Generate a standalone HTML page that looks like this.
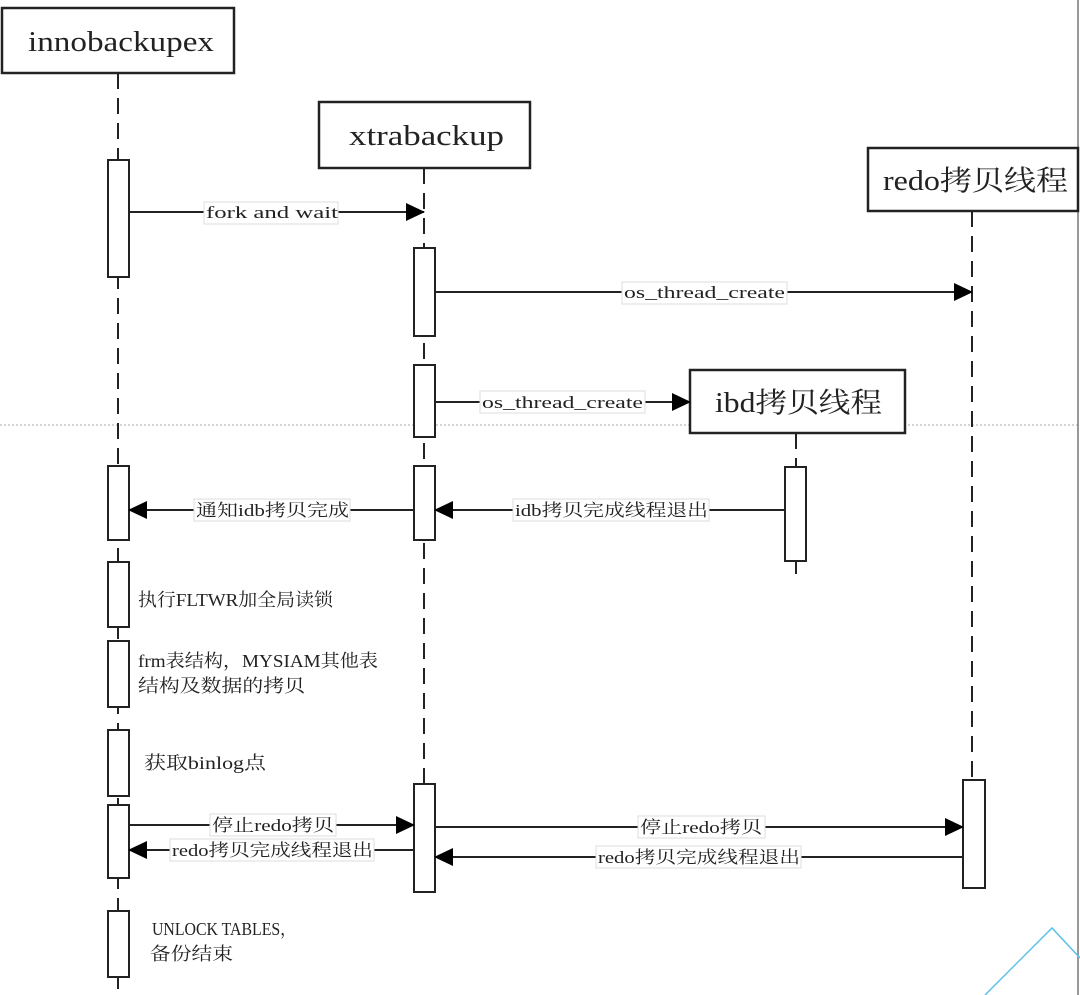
<!DOCTYPE html>
<html><head><meta charset="utf-8"><style>
html,body{margin:0;padding:0;background:#fff;}
svg{display:block;}
text{font-family:"Liberation Serif","Noto Serif CJK SC",serif;fill:#222;}
.t{font-size:28px;}
.l{font-size:17px;}
.n{font-size:18px;}
</style></head><body>
<svg width="1080" height="995" viewBox="0 0 1080 995" xmlns="http://www.w3.org/2000/svg">
<defs><marker id="a" markerWidth="20" markerHeight="20" refX="18" refY="9" orient="auto" markerUnits="userSpaceOnUse"><path d="M0,0 L19,9 L0,18 z" fill="#000"/></marker></defs>
<line x1="0" y1="425" x2="1080" y2="425" stroke="#aaa" stroke-width="1" stroke-dasharray="2,2"/>
<line x1="1078" y1="0" x2="1078" y2="995" stroke="#777" stroke-width="1.5"/>
<g stroke="#222" stroke-width="2" fill="none" stroke-dasharray="16,9">
<line x1="118" y1="73" x2="118" y2="990"/>
<line x1="424" y1="168" x2="424" y2="892"/>
<line x1="972" y1="211" x2="972" y2="888"/>
<line x1="796" y1="433" x2="796" y2="578"/>
</g>
<g stroke="#222" stroke-width="2.5" fill="#fff">
<rect x="2" y="8" width="232" height="65"/>
<rect x="319" y="102" width="211" height="66"/>
<rect x="868" y="148" width="210" height="63"/>
<rect x="690" y="370" width="215" height="63"/>
</g>
<text class="t" x="28" y="51" textLength="186" lengthAdjust="spacingAndGlyphs">innobackupex</text>
<text class="t" x="349" y="145" textLength="155" lengthAdjust="spacingAndGlyphs">xtrabackup</text>
<text class="t" x="883" y="190" textLength="185" lengthAdjust="spacingAndGlyphs">redo拷贝线程</text>
<text class="t" x="715" y="412" textLength="167" lengthAdjust="spacingAndGlyphs">ibd拷贝线程</text>
<g stroke="#222" stroke-width="2" fill="#fff">
<rect x="108" y="160" width="21" height="117"/>
<rect x="108" y="466" width="21" height="74"/>
<rect x="108" y="562" width="21" height="65"/>
<rect x="108" y="641" width="21" height="66"/>
<rect x="108" y="730" width="21" height="66"/>
<rect x="108" y="805" width="21" height="73"/>
<rect x="108" y="911" width="21" height="66"/>
<rect x="414" y="248" width="21" height="88"/>
<rect x="414" y="365" width="21" height="72"/>
<rect x="414" y="466" width="21" height="74"/>
<rect x="414" y="784" width="21" height="108"/>
<rect x="785" y="467" width="21" height="94"/>
<rect x="963" y="780" width="22" height="108"/>
</g>
<g stroke="#222" stroke-width="2" marker-end="url(#a)">
<line x1="129" y1="212" x2="424" y2="212"/>
<line x1="435" y1="292" x2="972" y2="292"/>
<line x1="435" y1="402" x2="690" y2="402"/>
<line x1="414" y1="510" x2="129" y2="510"/>
<line x1="785" y1="510" x2="435" y2="510"/>
<line x1="129" y1="825" x2="414" y2="825"/>
<line x1="435" y1="827" x2="963" y2="827"/>
<line x1="414" y1="850" x2="129" y2="850"/>
<line x1="963" y1="857" x2="435" y2="857"/>
</g>
<g fill="#fff" stroke="#ddd" stroke-width="1">
<rect x="204" y="202" width="134" height="22"/>
<rect x="622" y="282" width="165" height="22"/>
<rect x="480" y="391" width="165" height="22"/>
<rect x="194" y="499" width="156" height="22"/>
<rect x="513" y="499" width="196" height="22"/>
<rect x="210" y="814" width="126" height="22"/>
<rect x="638" y="816" width="127" height="22"/>
<rect x="170" y="839" width="204" height="22"/>
<rect x="596" y="846" width="205" height="22"/>
</g>
<text class="l" x="206" y="218" textLength="132" lengthAdjust="spacingAndGlyphs">fork and wait</text>
<text class="l" x="624" y="298" textLength="161" lengthAdjust="spacingAndGlyphs">os_thread_create</text>
<text class="l" x="482" y="408" textLength="161" lengthAdjust="spacingAndGlyphs">os_thread_create</text>
<text class="l" x="196" y="516" textLength="153" lengthAdjust="spacingAndGlyphs">通知idb拷贝完成</text>
<text class="l" x="515" y="516" textLength="193" lengthAdjust="spacingAndGlyphs">idb拷贝完成线程退出</text>
<text class="l" x="212" y="831" textLength="122" lengthAdjust="spacingAndGlyphs">停止redo拷贝</text>
<text class="l" x="640" y="833" textLength="122" lengthAdjust="spacingAndGlyphs">停止redo拷贝</text>
<text class="l" x="172" y="856" textLength="201" lengthAdjust="spacingAndGlyphs">redo拷贝完成线程退出</text>
<text class="l" x="598" y="863" textLength="202" lengthAdjust="spacingAndGlyphs">redo拷贝完成线程退出</text>
<text class="n" x="138" y="606" textLength="195" lengthAdjust="spacingAndGlyphs">执行FLTWR加全局读锁</text>
<text class="n" x="138" y="667" textLength="240" lengthAdjust="spacingAndGlyphs">frm表结构，MYSIAM其他表</text>
<text class="n" x="138" y="692" textLength="167" lengthAdjust="spacingAndGlyphs">结构及数据的拷贝</text>
<text class="n" x="144" y="769" textLength="122" lengthAdjust="spacingAndGlyphs">获取binlog点</text>
<text class="n" x="152" y="935" textLength="144" lengthAdjust="spacingAndGlyphs">UNLOCK TABLES，</text>
<text class="n" x="150" y="960" textLength="83" lengthAdjust="spacingAndGlyphs">备份结束</text>
<polyline points="985,995 1052,928 1080,958" fill="none" stroke="#5bc0eb" stroke-width="1.5"/>
</svg>
</body></html>
